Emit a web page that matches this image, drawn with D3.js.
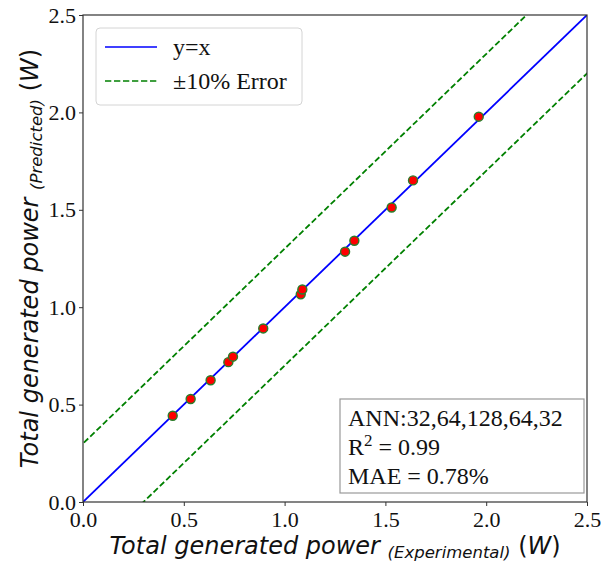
<!DOCTYPE html>
<html>
<head>
<meta charset="utf-8">
<script src="https://cdn.jsdelivr.net/npm/d3@7"></script>
<style>
  body { margin: 0; background: #fff; }
  svg { display: block; }
</style>
</head>
<body>
<div id="chart"></div>
<script>
// measured (experimental) vs predicted power, W
const experimental = [0.445, 0.534, 0.633, 0.721, 0.744, 0.894, 1.080, 1.088, 1.300, 1.346, 1.531, 1.637, 1.963];
const predicted    = [0.443, 0.529, 0.625, 0.718, 0.746, 0.891, 1.066, 1.091, 1.285, 1.341, 1.512, 1.651, 1.978];
const ticks = [0.0, 0.5, 1.0, 1.5, 2.0, 2.5];
const errorBand = 0.3;
const statsLines = ['ANN:32,64,128,64,32', 'R2', 'MAE = 0.78%'];

const width = 602, height = 567;
const margin = {left: 83, right: 15, top: 15, bottom: 65};
const serif = '"Liberation Serif", "Times New Roman", serif';
const sans = '"DejaVu Sans", sans-serif';

const svg = d3.select('#chart').append('svg')
  .attr('width', width)
  .attr('height', height);

const x = d3.scaleLinear().domain([0, 2.5]).range([margin.left, width - margin.right]);
const y = d3.scaleLinear().domain([0, 2.5]).range([height - margin.bottom, margin.top]);

svg.append('clipPath').attr('id', 'plotclip')
  .append('rect')
  .attr('x', x(0)).attr('y', y(2.5))
  .attr('width', x(2.5) - x(0)).attr('height', y(0) - y(2.5));

const plot = svg.append('g').attr('clip-path', 'url(#plotclip)');
const line = d3.line().x(d => x(d[0])).y(d => y(d[1]));

// y = x
plot.append('path')
  .attr('d', line([[0, 0], [2.5, 2.5]]))
  .attr('stroke', '#0000ff').attr('stroke-width', 1.8).attr('fill', 'none');

// +/- error lines
[errorBand, -errorBand].forEach(off => {
  plot.append('path')
    .attr('d', line([[-1, -1 + off], [3.5, 3.5 + off]]))
    .attr('stroke', '#008000').attr('stroke-width', 1.8)
    .attr('stroke-dasharray', '6,2.8').attr('fill', 'none');
});

svg.append('g').selectAll('circle')
  .data(experimental)
  .join('circle')
  .attr('cx', d => x(d))
  .attr('cy', (d, i) => y(predicted[i]))
  .attr('r', 4.5)
  .attr('fill', '#ff0000')
  .attr('stroke', '#2a7d2a')
  .attr('stroke-width', 1.4);

// axes
const xAxis = svg.append('g')
  .attr('transform', `translate(0,${y(0)})`)
  .call(d3.axisBottom(x).tickValues(ticks).tickFormat(d3.format('.1f')).tickSize(4).tickSizeOuter(0));
const yAxis = svg.append('g')
  .attr('transform', `translate(${x(0)},0)`)
  .call(d3.axisLeft(y).tickValues(ticks).tickFormat(d3.format('.1f')).tickSize(4).tickSizeOuter(0));

[xAxis, yAxis].forEach(a => {
  a.select('.domain').remove();
  a.selectAll('line').attr('stroke', '#333');
  a.selectAll('text')
    .attr('font-family', serif)
    .attr('font-size', 22)
    .attr('fill', '#111');
});
xAxis.selectAll('text').attr('y', 8).attr('dy', '0.78em');
yAxis.selectAll('text').attr('x', -7);

// frame
svg.append('rect')
  .attr('x', x(0)).attr('y', y(2.5))
  .attr('width', x(2.5) - x(0)).attr('height', y(0) - y(2.5))
  .attr('fill', 'none').attr('stroke', '#333').attr('stroke-width', 1.2);

// axis titles
function title(sel, sub) {
  sel.append('tspan').attr('font-size', 24).attr('font-style', 'italic').text('Total generated power ');
  sel.append('tspan').attr('font-size', 16.5).attr('font-style', 'italic').attr('dy', 4).text(sub);
  sel.append('tspan').attr('font-size', 24).attr('dy', -4).text(' (');
  sel.append('tspan').attr('font-size', 24).attr('font-style', 'italic').text('W');
  sel.append('tspan').attr('font-size', 24).text(')');
}
const midX = (x(0) + x(2.5)) / 2, midY = (y(0) + y(2.5)) / 2;
svg.append('text')
  .attr('x', midX).attr('y', 554)
  .attr('text-anchor', 'middle')
  .attr('font-family', sans).attr('fill', '#111')
  .call(title, '(Experimental)');
svg.append('text')
  .attr('transform', `translate(38,${midY}) rotate(-90)`)
  .attr('text-anchor', 'middle')
  .attr('font-family', sans).attr('fill', '#111')
  .call(title, '(Predicted)');

// legend
const legend = svg.append('g').attr('transform', 'translate(96,28)');
legend.append('rect')
  .attr('width', 206).attr('height', 77).attr('rx', 4)
  .attr('fill', '#fff').attr('stroke', '#d4d4d4').attr('stroke-width', 1);
const legendItems = [
  {label: 'y=x', color: '#0000ff', dash: null},
  {label: '\u00b110% Error', color: '#008000', dash: '6.3,2.7'}
];
legendItems.forEach((it, i) => {
  const g = legend.append('g').attr('transform', `translate(0,${19 + i * 34})`);
  g.append('line').attr('x1', 9).attr('x2', 61).attr('y1', 0).attr('y2', 0)
    .attr('stroke', it.color).attr('stroke-width', 1.7)
    .attr('stroke-dasharray', it.dash);
  g.append('text').attr('x', 77).attr('y', 8)
    .attr('font-family', serif).attr('font-size', 24).attr('fill', '#111')
    .text(it.label);
});

// stats box
const stats = svg.append('g').attr('transform', 'translate(340,399)');
stats.append('rect')
  .attr('width', 244).attr('height', 94)
  .attr('fill', '#fff').attr('stroke', '#999').attr('stroke-width', 1.2);
statsLines.forEach((s, i) => {
  const t = stats.append('text').attr('x', 8).attr('y', 27 + i * 29)
    .attr('font-family', serif).attr('font-size', 24).attr('fill', '#111');
  if (s === 'R2') {
    t.append('tspan').text('R');
    t.append('tspan').attr('font-size', 17).attr('dy', -9).text('2');
    t.append('tspan').attr('dy', 9).text(' = 0.99');
  } else {
    t.text(s);
  }
});
</script>
</body>
</html>
